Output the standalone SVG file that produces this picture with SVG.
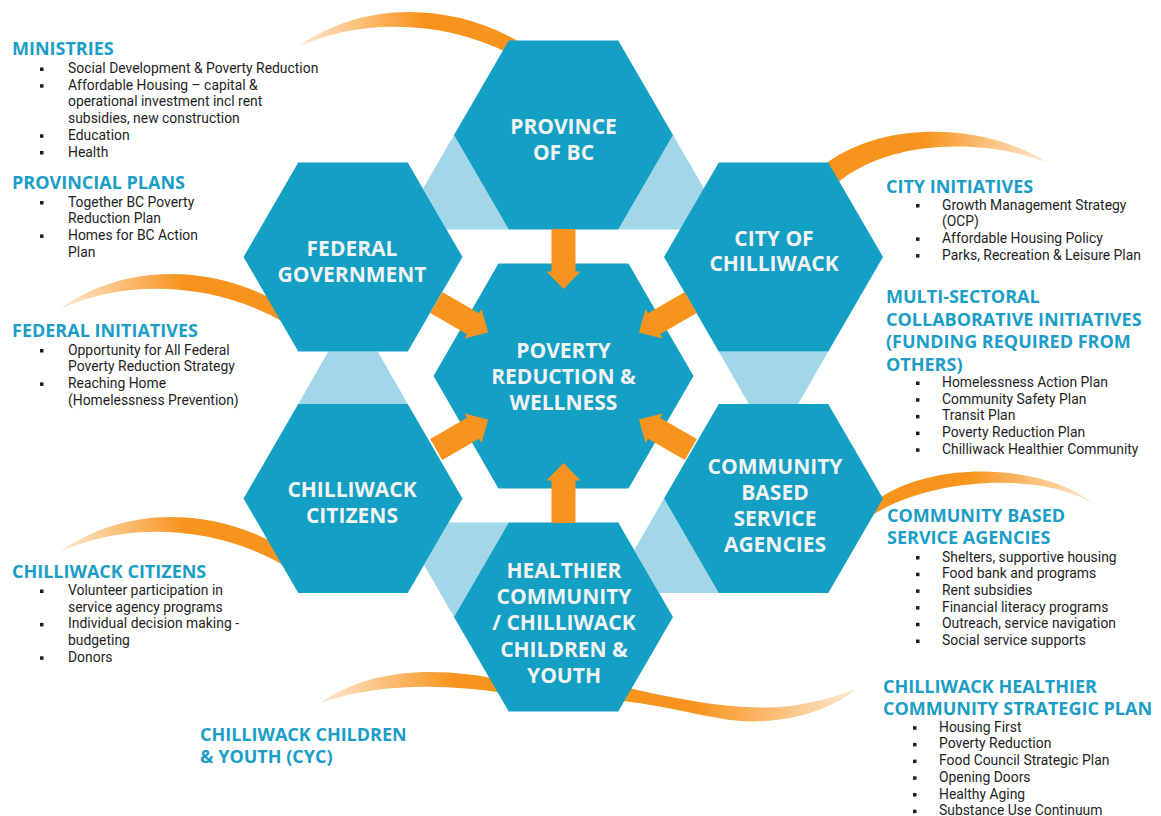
<svg xmlns="http://www.w3.org/2000/svg" xmlns:xlink="http://www.w3.org/1999/xlink" width="1161" height="816" viewBox="0 0 1161 816">
<style>
.hex{fill:#149FC4}
.band{fill:#A1D7E6}
.arrow{fill:#F7941D}
.lbl{font-family:"Open Sans","Liberation Sans",sans-serif;font-weight:700;font-size:21px;fill:#F2F2F2;text-anchor:middle}
.hd{font-family:"Open Sans","Liberation Sans",sans-serif;font-weight:700;font-size:18px;fill:#1A9DC6}
.tx{font-family:Roboto,"Liberation Sans",sans-serif;font-size:13.9px;fill:#1E1E1E}
.b{fill:#1E1E1E}
</style>
<defs>
<polygon id="hexS" points="-109.5,0 -54.75,-94.5 54.75,-94.5 109.5,0 54.75,94.5 -54.75,94.5"/>
<polygon id="arr" points="-12,-147 12,-147 12,-104.5 17,-104.5 0,-87 -17,-104.5 -12,-104.5"/>
<linearGradient id="gL" x1="0" y1="0" x2="1" y2="0">
<stop offset="0" stop-color="#FEE9D2"/>
<stop offset="0.55" stop-color="#F7941D"/>
<stop offset="1" stop-color="#F7941D"/>
</linearGradient>
<linearGradient id="gR" x1="0" y1="0" x2="1" y2="0">
<stop offset="0" stop-color="#F7941D"/>
<stop offset="0.45" stop-color="#F7941D"/>
<stop offset="1" stop-color="#FEE9D2"/>
</linearGradient>
<linearGradient id="gW" x1="0" y1="0" x2="1" y2="0">
<stop offset="0" stop-color="#FEE9D2"/>
<stop offset="0.25" stop-color="#F7941D"/>
<stop offset="0.7" stop-color="#F7941D"/>
<stop offset="1" stop-color="#FEE9D2"/>
</linearGradient>
<path id="swL" d="M0,0 C60,-44 150,-48 225,-3 L225,14 C150,-30 60,-28 0,0 Z"/>
</defs>

<g id="bands">
<polygon class="band" points="454,135 423,188.6 446.6,229.5 508.75,229.5"/>
<polygon class="band" points="673,135 704,188.6 680.4,229.5 618.25,229.5"/>
<polygon class="band" points="718.75,351.5 828.25,351.5 798.2,404 748.8,404"/>
<polygon class="band" points="328.3,351.5 377.7,351.5 407.75,404 298.25,404"/>
<polygon class="band" points="508.75,522.5 448.7,522.5 424.1,565.1 454,617"/>
<polygon class="band" points="664,498.5 634.3,550 659.2,593 718.75,593"/>
</g>

<g id="swooshes">
<use xlink:href="#swL" href="#swL" fill="url(#gL)" transform="translate(298,47)"/>
<use xlink:href="#swL" href="#swL" fill="url(#gL)" transform="translate(60,309)"/>
<use xlink:href="#swL" href="#swL" fill="url(#gL)" transform="translate(60,552)"/>
<path fill="url(#gR)" d="M1048,163 C990,125 890,118 828,162 L820,170 L836,184 C890,137 990,139 1048,163 Z"/>
<path fill="url(#gR)" d="M1095,505 C1050,466 940,458 880,498 L868,510 L874,514 C940,474 1050,474 1095,505 Z"/>
<path fill="url(#gW)" d="M320,703 C370,668 440,664 520,684 L620,686 C680,700 740,712 790,706 C820,702 845,694 857,688 C830,712 780,726 730,720 C690,714 650,702 610,700 L510,694 C450,684 380,682 320,703 Z"/>
</g>

<g id="node-province">
<use xlink:href="#hexS" href="#hexS" class="hex" x="563.5" y="135"/>
<text class="lbl" x="563.5" y="133.5">PROVINCE</text>
<text class="lbl" x="563.5" y="159.5">OF BC</text>
</g>
<g id="node-federal">
<use xlink:href="#hexS" href="#hexS" class="hex" x="353" y="257"/>
<text class="lbl" x="352" y="255.5">FEDERAL</text>
<text class="lbl" x="352" y="281.5">GOVERNMENT</text>
</g>
<g id="node-city">
<use xlink:href="#hexS" href="#hexS" class="hex" x="773.5" y="257"/>
<text class="lbl" x="774" y="245.5">CITY OF</text>
<text class="lbl" x="774" y="271">CHILLIWACK</text>
</g>
<g id="node-citizens">
<use xlink:href="#hexS" href="#hexS" class="hex" x="353" y="498.5"/>
<text class="lbl" x="352" y="497.3">CHILLIWACK</text>
<text class="lbl" x="352" y="523.3">CITIZENS</text>
</g>
<g id="node-agencies">
<use xlink:href="#hexS" href="#hexS" class="hex" x="773.5" y="498.5"/>
<text class="lbl" x="775" y="473.5">COMMUNITY</text>
<text class="lbl" x="775" y="499.5">BASED</text>
<text class="lbl" x="775" y="525.5">SERVICE</text>
<text class="lbl" x="775" y="552">AGENCIES</text>
</g>
<g id="node-healthier">
<use xlink:href="#hexS" href="#hexS" class="hex" x="563.5" y="617"/>
<text class="lbl" x="564" y="577.7">HEALTHIER</text>
<text class="lbl" x="564" y="604">COMMUNITY</text>
<text class="lbl" x="564" y="630">/ CHILLIWACK</text>
<text class="lbl" x="564" y="656.5">CHILDREN &amp;</text>
<text class="lbl" x="564" y="682.7">YOUTH</text>
</g>
<g id="node-center">
<polygon class="hex" points="433.5,376 498.5,263.4 628.5,263.4 693.5,376 628.5,488.6 498.5,488.6"/>
<text class="lbl" x="563.5" y="358.3">POVERTY</text>
<text class="lbl" x="563.5" y="384">REDUCTION &amp;</text>
<text class="lbl" x="563.5" y="410">WELLNESS</text>
</g>

<g id="connectors">
<use xlink:href="#arr" href="#arr" class="arrow" transform="translate(563.5,376)"/>
<use xlink:href="#arr" href="#arr" class="arrow" transform="translate(563.5,376) rotate(60)"/>
<use xlink:href="#arr" href="#arr" class="arrow" transform="translate(563.5,376) rotate(120)"/>
<use xlink:href="#arr" href="#arr" class="arrow" transform="translate(563.5,376) rotate(180)"/>
<use xlink:href="#arr" href="#arr" class="arrow" transform="translate(563.5,376) rotate(240)"/>
<use xlink:href="#arr" href="#arr" class="arrow" transform="translate(563.5,376) rotate(300)"/>
</g>

<g id="ministries">
<text class="hd" x="12" y="55">MINISTRIES</text>
<rect class="b" x="40" y="67.5" width="3.5" height="3.5"/>
<text class="tx" x="68" y="73">Social Development &amp; Poverty Reduction</text>
<rect class="b" x="40" y="84.2" width="3.5" height="3.5"/>
<text class="tx" x="68" y="89.7">Affordable Housing – capital &amp;</text>
<text class="tx" x="68" y="106.4">operational investment incl rent</text>
<text class="tx" x="68" y="123.1">subsidies, new construction</text>
<rect class="b" x="40" y="134.3" width="3.5" height="3.5"/>
<text class="tx" x="68" y="139.8">Education</text>
<rect class="b" x="40" y="151" width="3.5" height="3.5"/>
<text class="tx" x="68" y="156.5">Health</text>
</g>
<g id="provincial-plans">
<text class="hd" x="12" y="189">PROVINCIAL PLANS</text>
<rect class="b" x="40" y="201" width="3.5" height="3.5"/>
<text class="tx" x="68" y="206.5">Together BC Poverty</text>
<text class="tx" x="68" y="223.2">Reduction Plan</text>
<rect class="b" x="40" y="234.4" width="3.5" height="3.5"/>
<text class="tx" x="68" y="239.9">Homes for BC Action</text>
<text class="tx" x="68" y="256.6">Plan</text>
</g>
<g id="federal-initiatives">
<text class="hd" x="12" y="337">FEDERAL INITIATIVES</text>
<rect class="b" x="40" y="349" width="3.5" height="3.5"/>
<text class="tx" x="68" y="354.5">Opportunity for All Federal</text>
<text class="tx" x="68" y="371.2">Poverty Reduction Strategy</text>
<rect class="b" x="40" y="382.4" width="3.5" height="3.5"/>
<text class="tx" x="68" y="387.9">Reaching Home</text>
<text class="tx" x="68" y="404.6">(Homelessness Prevention)</text>
</g>
<g id="citizens-list">
<text class="hd" x="12" y="578">CHILLIWACK CITIZENS</text>
<rect class="b" x="40" y="589.5" width="3.5" height="3.5"/>
<text class="tx" x="68" y="595">Volunteer participation in</text>
<text class="tx" x="68" y="611.7">service agency programs</text>
<rect class="b" x="40" y="622.9" width="3.5" height="3.5"/>
<text class="tx" x="68" y="628.4">Individual decision making -</text>
<text class="tx" x="68" y="645.1">budgeting</text>
<rect class="b" x="40" y="656.3" width="3.5" height="3.5"/>
<text class="tx" x="68" y="661.8">Donors</text>
</g>
<g id="cyc">
<text class="hd" x="200" y="740.5">CHILLIWACK CHILDREN</text>
<text class="hd" x="200" y="763">&amp; YOUTH (CYC)</text>
</g>

<g id="city-initiatives">
<text class="hd" x="886" y="193">CITY INITIATIVES</text>
<rect class="b" x="916" y="204" width="3.5" height="3.5"/>
<text class="tx" x="942" y="209.5">Growth Management Strategy</text>
<text class="tx" x="942" y="226.2">(OCP)</text>
<rect class="b" x="916" y="237.4" width="3.5" height="3.5"/>
<text class="tx" x="942" y="242.9">Affordable Housing Policy</text>
<rect class="b" x="916" y="254.1" width="3.5" height="3.5"/>
<text class="tx" x="942" y="259.6">Parks, Recreation &amp; Leisure Plan</text>
</g>
<g id="multi-sectoral">
<text class="hd" x="886" y="303">MULTI-SECTORAL</text>
<text class="hd" x="886" y="325.5">COLLABORATIVE INITIATIVES</text>
<text class="hd" x="886" y="348">(FUNDING REQUIRED FROM</text>
<text class="hd" x="886" y="370.5">OTHERS)</text>
<rect class="b" x="916" y="381.5" width="3.5" height="3.5"/>
<text class="tx" x="942" y="387">Homelessness Action Plan</text>
<rect class="b" x="916" y="398.2" width="3.5" height="3.5"/>
<text class="tx" x="942" y="403.7">Community Safety Plan</text>
<rect class="b" x="916" y="414.9" width="3.5" height="3.5"/>
<text class="tx" x="942" y="420.4">Transit Plan</text>
<rect class="b" x="916" y="431.6" width="3.5" height="3.5"/>
<text class="tx" x="942" y="437.1">Poverty Reduction Plan</text>
<rect class="b" x="916" y="448.3" width="3.5" height="3.5"/>
<text class="tx" x="942" y="453.8">Chilliwack Healthier Community</text>
</g>
<g id="agencies-list">
<text class="hd" x="887" y="521.7">COMMUNITY BASED</text>
<text class="hd" x="887" y="544.2">SERVICE AGENCIES</text>
<rect class="b" x="916" y="556" width="3.5" height="3.5"/>
<text class="tx" x="942" y="561.5">Shelters, supportive housing</text>
<rect class="b" x="916" y="572.7" width="3.5" height="3.5"/>
<text class="tx" x="942" y="578.2">Food bank and programs</text>
<rect class="b" x="916" y="589.4" width="3.5" height="3.5"/>
<text class="tx" x="942" y="594.9">Rent subsidies</text>
<rect class="b" x="916" y="606.1" width="3.5" height="3.5"/>
<text class="tx" x="942" y="611.6">Financial literacy programs</text>
<rect class="b" x="916" y="622.8" width="3.5" height="3.5"/>
<text class="tx" x="942" y="628.3">Outreach, service navigation</text>
<rect class="b" x="916" y="639.5" width="3.5" height="3.5"/>
<text class="tx" x="942" y="645">Social service supports</text>
</g>
<g id="strategic-plan">
<text class="hd" x="883" y="692.5">CHILLIWACK HEALTHIER</text>
<text class="hd" x="883" y="715">COMMUNITY STRATEGIC PLAN</text>
<rect class="b" x="913" y="726.2" width="3.5" height="3.5"/>
<text class="tx" x="939" y="731.7">Housing First</text>
<rect class="b" x="913" y="742.9" width="3.5" height="3.5"/>
<text class="tx" x="939" y="748.4">Poverty Reduction</text>
<rect class="b" x="913" y="759.6" width="3.5" height="3.5"/>
<text class="tx" x="939" y="765.1">Food Council Strategic Plan</text>
<rect class="b" x="913" y="776.3" width="3.5" height="3.5"/>
<text class="tx" x="939" y="781.8">Opening Doors</text>
<rect class="b" x="913" y="793" width="3.5" height="3.5"/>
<text class="tx" x="939" y="798.5">Healthy Aging</text>
<rect class="b" x="913" y="809.7" width="3.5" height="3.5"/>
<text class="tx" x="939" y="815.2">Substance Use Continuum</text>
</g>
</svg>
